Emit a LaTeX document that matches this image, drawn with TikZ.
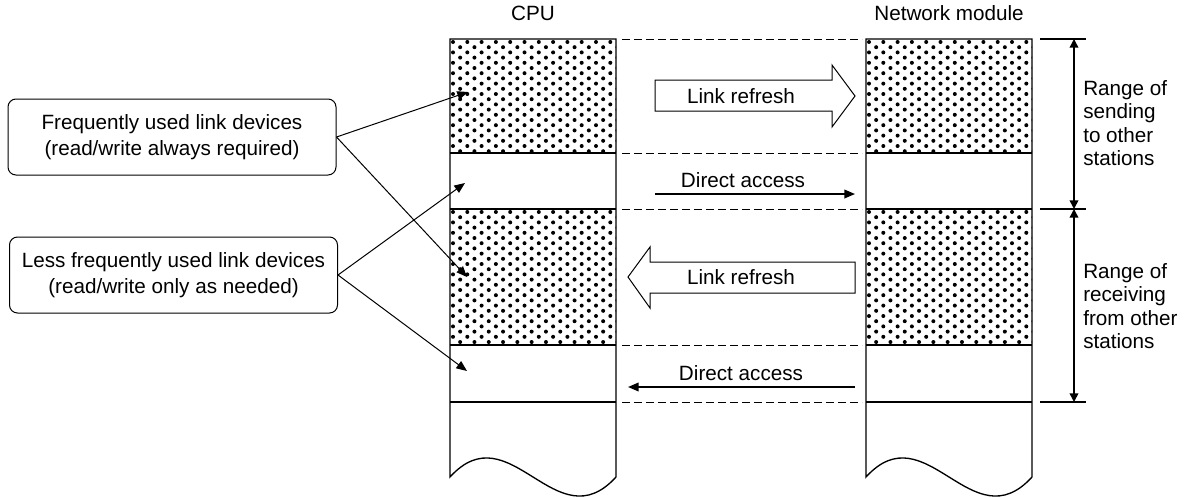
\documentclass[tikz,border=0pt]{standalone}
\usepackage{fontspec}
\setmainfont{Liberation Sans}
\usepackage{tikz}
\usetikzlibrary{arrows.meta,positioning,calc}

\newcommand{\stipple}[4]{%
    \begin{scope}
        \clip (#1,#2) rectangle ({#3},{#4});
        \foreach \jj in {0,...,26} {
            \foreach \ii in {0,...,12} {
                \fill ({#1+3+14.3*\ii+7.15*mod(\jj,2)},{#2+3+5.2*\jj}) circle[radius=1.5pt];
            }
        }
    \end{scope}}

\begin{document}
\begin{tikzpicture}[
        x=0.75pt, y=-0.75pt,
        every node/.style={font=\fontsize{15.5}{18}\selectfont},
        note/.style={draw, line width=0.75pt, rounded corners=6pt, align=center, minimum width=246pt, minimum height=57pt, font=\fontsize{15.5}{19.5}\selectfont},
        rangetxt/.style={anchor=west, align=left, inner sep=0pt, font=\fontsize{15.5}{17.5}\selectfont},
        column/.style={line width=1pt},
        guide/.style={line width=0.6pt, dash pattern=on 6pt off 3pt},
        link/.style={line width=0.75pt, -{Triangle[length=8pt,width=6.5pt]}},
        access/.style={line width=1.2pt, -{Triangle[length=8pt,width=6.5pt]}},
        dim/.style={line width=1.1pt, {Triangle[length=6.5pt,width=6.5pt]}-{Triangle[length=6.5pt,width=6.5pt]}},
        blockarrow/.style={draw, line width=0.75pt, fill=white}
    ]
    \useasboundingbox (0,0) rectangle (1189,497);

    \node (cpuhead) at (533,13) {CPU};
    \node (nethead) at (949,13) {Network module};

    \foreach \cx in {450,866} {
        \stipple{\cx}{39}{\cx+166}{153}
        \stipple{\cx}{209}{\cx+166}{345}
        \draw[column] (\cx,39) -- ({\cx+166},39) -- ({\cx+166},477)
            .. controls ({\cx+106},543) and ({\cx+60},411) .. (\cx,477) -- cycle;
        \foreach \yy in {153,209,345,402}
            \draw[column] (\cx,\yy) -- ({\cx+166},\yy);
    }

    \foreach \yy in {39,153,209,345,402}
        \draw[guide] (622,\yy) -- (862,\yy);

    \draw[blockarrow] (655,80) -- (832,80) -- (832,65) -- (855,96) -- (832,127) -- (832,111) -- (655,111) -- cycle;
    \node (refsend) at (741,96) {Link refresh};
    \draw[blockarrow] (855,262) -- (650,262) -- (650,247) -- (628,277) -- (650,308) -- (650,293) -- (855,293) -- cycle;
    \node (refrecv) at (741,277) {Link refresh};

    \coordinate (dasendfrom) at (655,194);
    \coordinate (dasendto) at (855,194);
    \coordinate (darecvfrom) at (855,387);
    \coordinate (darecvto) at (628,387);
    \draw[access] (dasendfrom) -- (dasendto);
    \node (dasend) at (743,180) {Direct access};
    \draw[access] (darecvfrom) -- (darecvto);
    \node (darecv) at (741,373) {Direct access};

    \node[note] (frequent) at (172,137) {Frequently used link devices\\(read/write always required)};
    \node[note] (seldom) at (173.5,275) {Less frequently used link devices\\(read/write only as needed)};

    \coordinate (cpusendlink) at (468,92);
    \coordinate (cpusenddirect) at (465,183);
    \coordinate (cpurecvlink) at (467,277);
    \coordinate (cpurecvdirect) at (467,371);
    \draw[link] (frequent.east) -- (cpusendlink);
    \draw[link] (frequent.east) -- (cpurecvlink);
    \draw[link] (seldom.east) -- (cpusenddirect);
    \draw[link] (seldom.east) -- (cpurecvdirect);

    \coordinate (rngtop) at (1074,39);
    \coordinate (rngmid) at (1074,209);
    \coordinate (rngbot) at (1074,402);
    \foreach \yy in {39,209,402}
        \draw[line width=1.1pt] (1040,\yy) -- (1086,\yy);
    \draw[dim] (rngtop) -- (rngmid);
    \draw[dim] (rngmid) -- (rngbot);
    \node[rangetxt] (sendrange) at (1083,123) {Range of\\sending\\to other\\stations};
    \node[rangetxt] (recvrange) at (1083,306) {Range of\\receiving\\from other\\stations};
\end{tikzpicture}
\end{document}
